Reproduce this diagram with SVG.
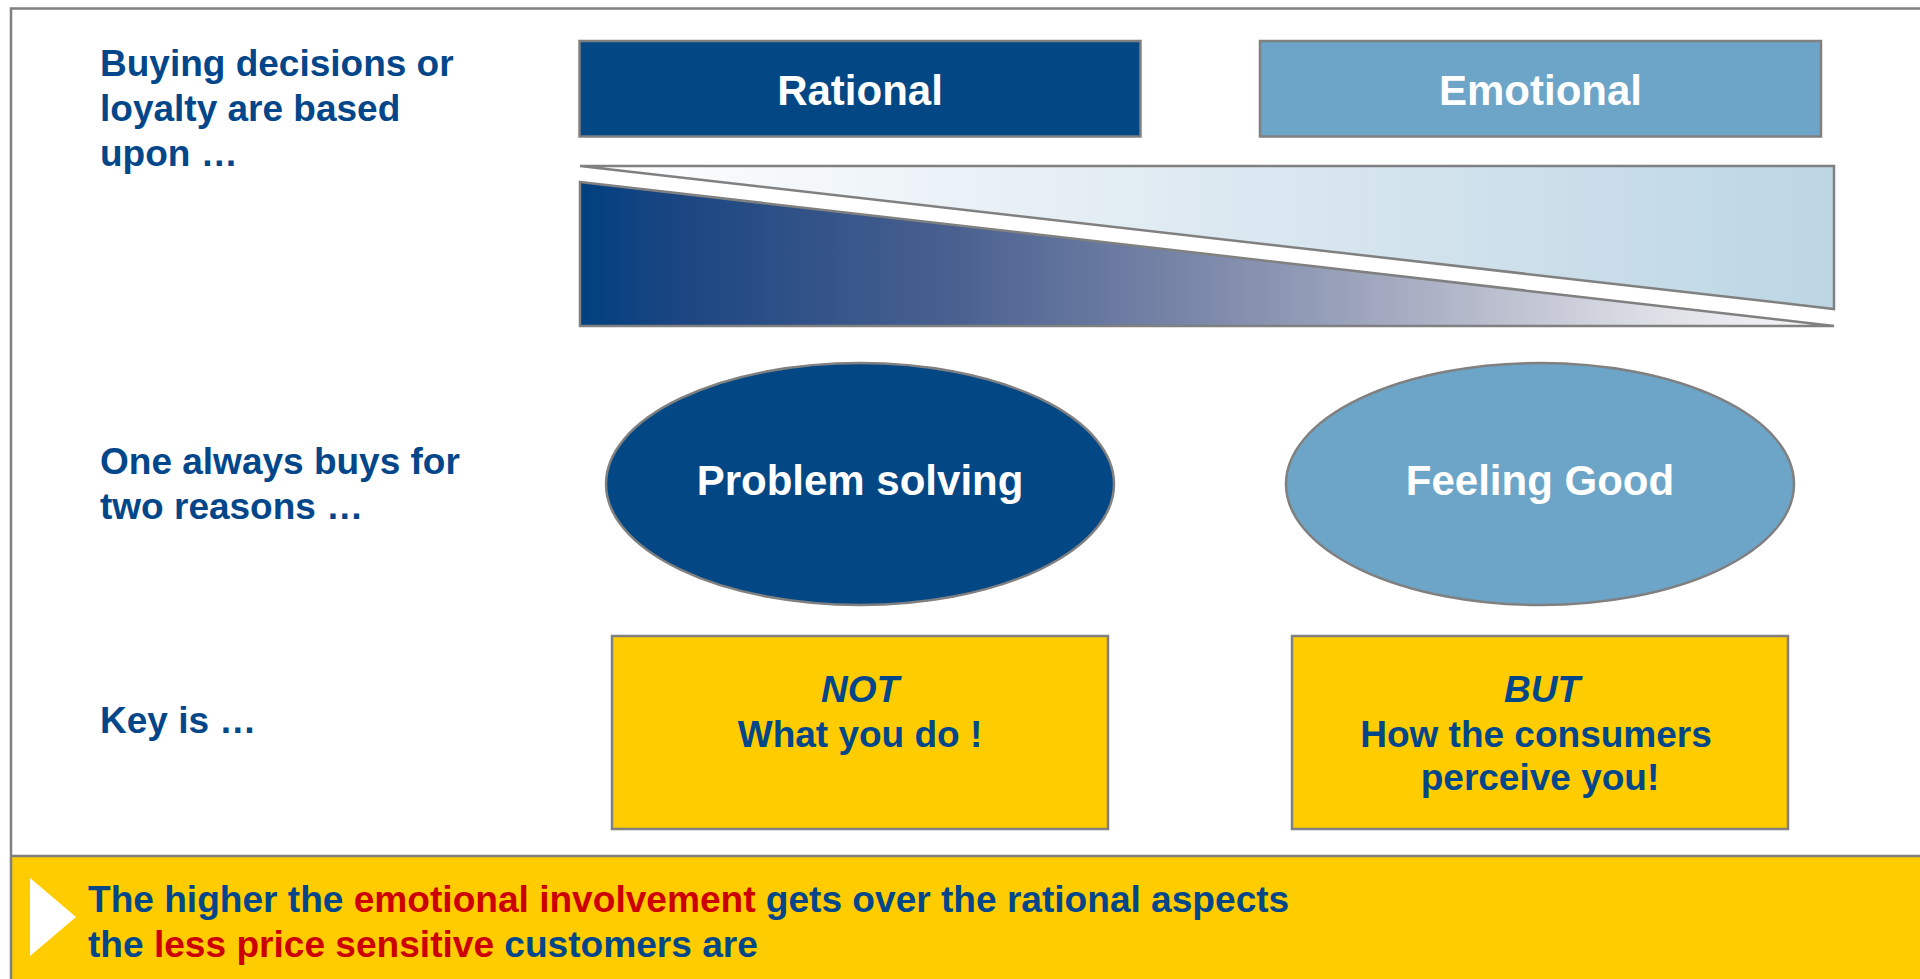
<svg xmlns="http://www.w3.org/2000/svg" width="1920" height="979" viewBox="0 0 1920 979">
  <style>
    .lbl { font-family: "Liberation Sans", Arial, sans-serif; font-weight: bold; font-size: 37px; fill: #03478a; }
    .ttl { font-family: "Liberation Sans", Arial, sans-serif; font-weight: bold; font-size: 42px; fill: #ffffff; text-anchor: middle; }
    .key { font-family: "Liberation Sans", Arial, sans-serif; font-weight: bold; font-size: 37px; fill: #03478a; text-anchor: middle; }
    .ban { font-family: "Liberation Sans", Arial, sans-serif; font-weight: bold; font-size: 37.1px; fill: #03478a; }
    .red { fill: #cc0000; }
    .edge { stroke: #808080; stroke-width: 2.5; }
    .dark { fill: #034785; }
    .light { fill: #6ca5c7; }
    .gold { fill: #ffcc00; }
  </style>
  <defs>
    <linearGradient id="fadeLight" x1="0" y1="0" x2="1" y2="0">
      <stop offset="0" stop-color="#ffffff"/>
      <stop offset="0.5" stop-color="#dde9f1"/>
      <stop offset="1" stop-color="#bcd6e4"/>
    </linearGradient>
    <linearGradient id="fadeDark" x1="0" y1="0" x2="1" y2="0">
      <stop offset="0" stop-color="#00407f"/>
      <stop offset="0.08" stop-color="#1c4681"/>
      <stop offset="0.3" stop-color="#4a6190"/>
      <stop offset="0.5" stop-color="#7d89aa"/>
      <stop offset="0.7" stop-color="#b2b7c9"/>
      <stop offset="0.85" stop-color="#dcdee5"/>
      <stop offset="1" stop-color="#f9f9fa"/>
    </linearGradient>
  </defs>

  <rect width="1920" height="979" fill="#ffffff"/>

  <!-- conclusion banner -->
  <g id="banner">
    <rect x="12" y="856" width="1910" height="130" class="gold"/>
    <line x1="10" y1="856" x2="1920" y2="856" class="edge"/>
    <polygon points="30,878 76,917 30,956" fill="#ffffff"/>
    <text class="ban" x="88" y="912">The higher the <tspan class="red">emotional involvement</tspan> gets over the rational aspects</text>
    <text class="ban" x="88" y="957">the <tspan class="red">less price sensitive</tspan> customers are</text>
  </g>

  <!-- slide frame -->
  <rect x="11" y="8.5" width="1930" height="1000" fill="none" class="edge"/>

  <!-- row labels -->
  <g id="labels">
    <text class="lbl" x="100" y="76">Buying decisions or</text>
    <text class="lbl" x="100" y="121">loyalty are based</text>
    <text class="lbl" x="100" y="166">upon …</text>
    <text class="lbl" x="100" y="474">One always buys for</text>
    <text class="lbl" x="100" y="519">two reasons …</text>
    <text class="lbl" x="100" y="733">Key is …</text>
  </g>

  <!-- headers -->
  <g id="rational">
    <rect x="579.5" y="41" width="561" height="95.5" class="dark edge"/>
    <text class="ttl" x="860" y="105">Rational</text>
  </g>
  <g id="emotional">
    <rect x="1260" y="41" width="561" height="95.5" class="light edge"/>
    <text class="ttl" x="1540.5" y="105">Emotional</text>
  </g>

  <!-- balance wedges -->
  <g id="wedges">
    <polygon points="580,166 1834,166 1834,309" fill="url(#fadeLight)" class="edge" stroke-linejoin="miter"/>
    <polygon points="580,182 1834,326 580,326" fill="url(#fadeDark)" class="edge" stroke-linejoin="miter"/>
  </g>

  <!-- reasons -->
  <g id="problem-solving">
    <ellipse cx="860" cy="484" rx="254" ry="121" class="dark edge"/>
    <text class="ttl" x="860" y="495">Problem solving</text>
  </g>
  <g id="feeling-good">
    <ellipse cx="1540" cy="484" rx="254" ry="121" class="light edge"/>
    <text class="ttl" x="1540" y="495">Feeling Good</text>
  </g>

  <!-- key statements -->
  <g id="not-box">
    <rect x="612" y="636" width="496" height="193" class="gold edge"/>
    <text class="key" x="860" y="702" font-style="italic">NOT</text>
    <text class="key" x="860" y="747">What you do !</text>
  </g>
  <g id="but-box">
    <rect x="1292" y="636" width="496" height="193" class="gold edge"/>
    <text class="key" x="1542" y="702" font-style="italic">BUT</text>
    <text class="key" x="1536" y="747">How the consumers</text>
    <text class="key" x="1540" y="790">perceive you!</text>
  </g>

  <g id="connectors"/>
</svg>
